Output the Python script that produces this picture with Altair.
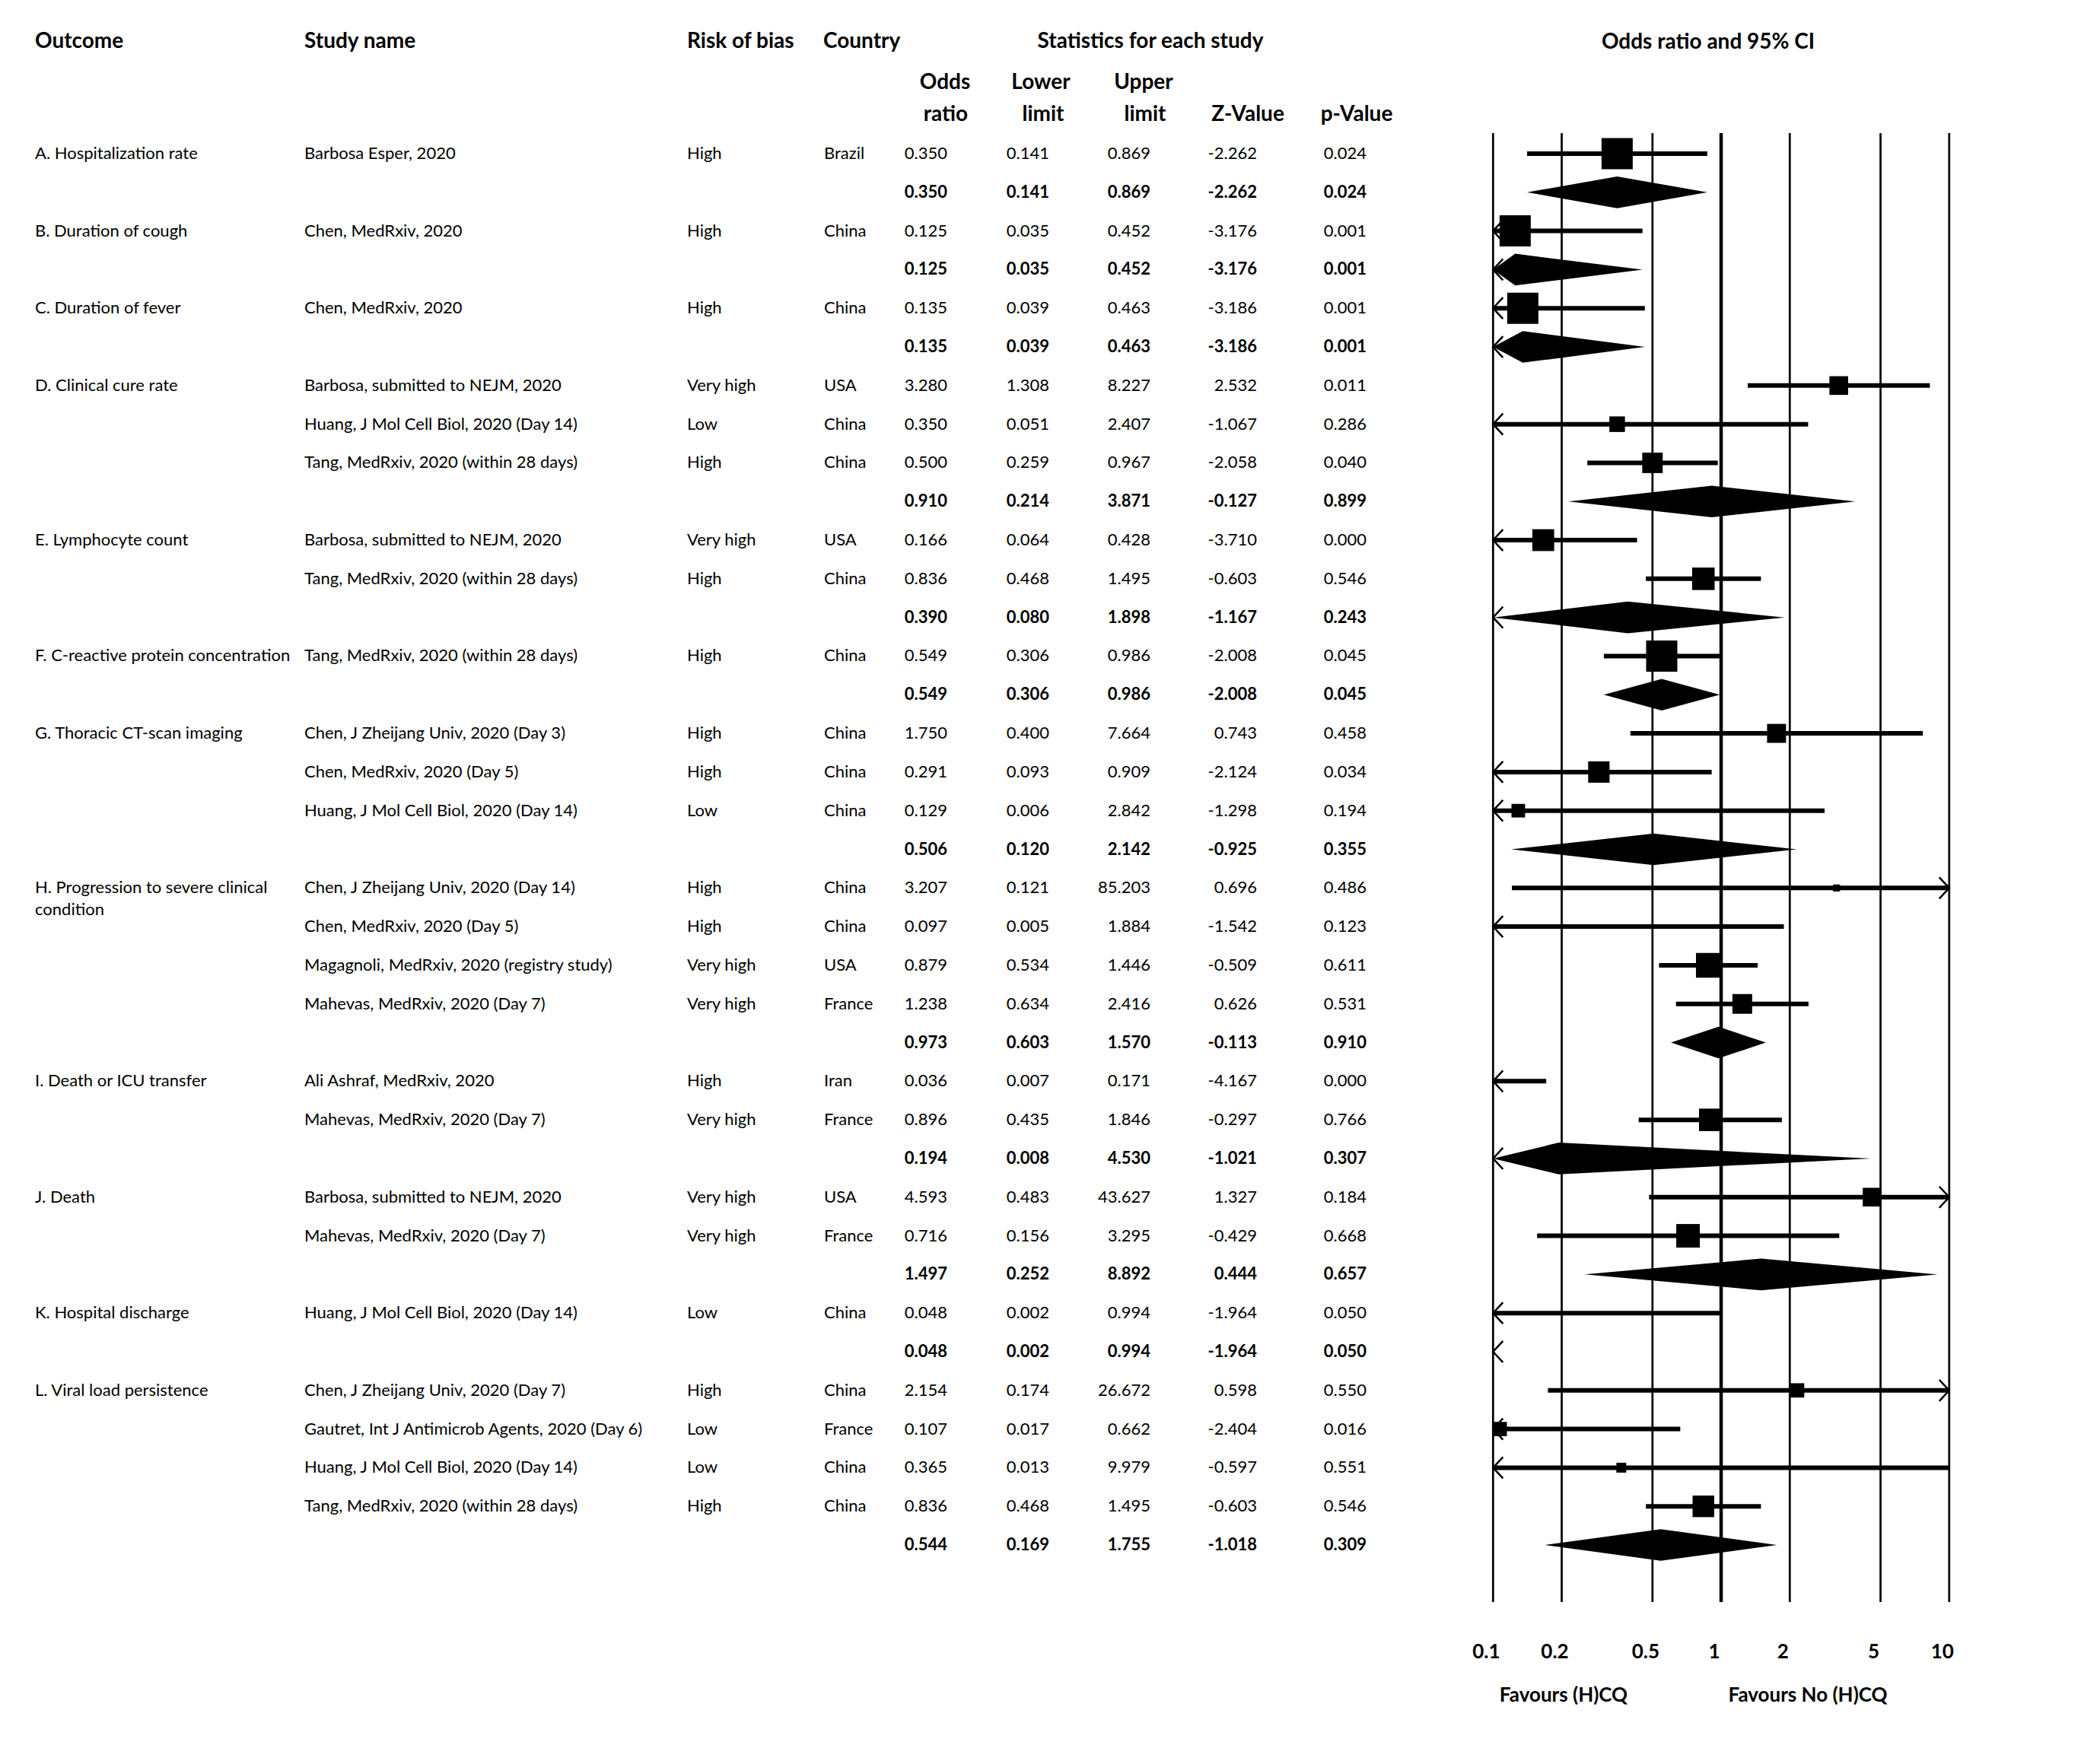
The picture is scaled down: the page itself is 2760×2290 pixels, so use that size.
import altair as alt
import pandas as pd

FONT = "Lato"
M = 8  # page margin: chart coordinate = reference pixel - M

# ---------------- data ----------------
outcome = ["A. Hospitalization rate", "", "B. Duration of cough", "", "C. Duration of fever", "",
           "D. Clinical cure rate", "", "", "", "E. Lymphocyte count", "", "",
           "F. C-reactive protein concentration", "", "G. Thoracic CT-scan imaging", "", "", "",
           "H. Progression to severe clinical", "", "", "", "", "I. Death or ICU transfer", "", "",
           "J. Death", "", "", "K. Hospital discharge", "", "L. Viral load persistence", "", "", "", ""]
outcome_wrap_row = [19]
outcome_wrap_text = ["condition"]

study = ["Barbosa Esper, 2020", "",
         "Chen, MedRxiv, 2020", "",
         "Chen, MedRxiv, 2020", "",
         "Barbosa, submitted to NEJM, 2020", "Huang, J Mol Cell Biol, 2020 (Day 14)",
         "Tang, MedRxiv, 2020 (within 28 days)", "",
         "Barbosa, submitted to NEJM, 2020", "Tang, MedRxiv, 2020 (within 28 days)", "",
         "Tang, MedRxiv, 2020 (within 28 days)", "",
         "Chen, J Zheijang Univ, 2020 (Day 3)", "Chen, MedRxiv, 2020 (Day 5)",
         "Huang, J Mol Cell Biol, 2020 (Day 14)", "",
         "Chen, J Zheijang Univ, 2020 (Day 14)", "Chen, MedRxiv, 2020 (Day 5)",
         "Magagnoli, MedRxiv, 2020 (registry study)", "Mahevas, MedRxiv, 2020 (Day 7)", "",
         "Ali Ashraf, MedRxiv, 2020", "Mahevas, MedRxiv, 2020 (Day 7)", "",
         "Barbosa, submitted to NEJM, 2020", "Mahevas, MedRxiv, 2020 (Day 7)", "",
         "Huang, J Mol Cell Biol, 2020 (Day 14)", "",
         "Chen, J Zheijang Univ, 2020 (Day 7)", "Gautret, Int J Antimicrob Agents, 2020 (Day 6)",
         "Huang, J Mol Cell Biol, 2020 (Day 14)", "Tang, MedRxiv, 2020 (within 28 days)", ""]

risk = ["High", "", "High", "", "High", "",
        "Very high", "Low", "High", "",
        "Very high", "High", "",
        "High", "",
        "High", "High", "Low", "",
        "High", "High", "Very high", "Very high", "",
        "High", "Very high", "",
        "Very high", "Very high", "",
        "Low", "",
        "High", "Low", "Low", "High", ""]

country = ["Brazil", "", "China", "", "China", "",
           "USA", "China", "China", "",
           "USA", "China", "",
           "China", "",
           "China", "China", "China", "",
           "China", "China", "USA", "France", "",
           "Iran", "France", "",
           "USA", "France", "",
           "China", "",
           "China", "France", "China", "China", ""]

odds_ratio = [0.350, 0.350, 0.125, 0.125, 0.135, 0.135, 3.280, 0.350, 0.500, 0.910,
              0.166, 0.836, 0.390, 0.549, 0.549, 1.750, 0.291, 0.129, 0.506,
              3.207, 0.097, 0.879, 1.238, 0.973, 0.036, 0.896, 0.194,
              4.593, 0.716, 1.497, 0.048, 0.048, 2.154, 0.107, 0.365, 0.836, 0.544]
lower = [0.141, 0.141, 0.035, 0.035, 0.039, 0.039, 1.308, 0.051, 0.259, 0.214,
         0.064, 0.468, 0.080, 0.306, 0.306, 0.400, 0.093, 0.006, 0.120,
         0.121, 0.005, 0.534, 0.634, 0.603, 0.007, 0.435, 0.008,
         0.483, 0.156, 0.252, 0.002, 0.002, 0.174, 0.017, 0.013, 0.468, 0.169]
upper = [0.869, 0.869, 0.452, 0.452, 0.463, 0.463, 8.227, 2.407, 0.967, 3.871,
         0.428, 1.495, 1.898, 0.986, 0.986, 7.664, 0.909, 2.842, 2.142,
         85.203, 1.884, 1.446, 2.416, 1.570, 0.171, 1.846, 4.530,
         43.627, 3.295, 8.892, 0.994, 0.994, 26.672, 0.662, 9.979, 1.495, 1.755]
z_value = [-2.262, -2.262, -3.176, -3.176, -3.186, -3.186, 2.532, -1.067, -2.058, -0.127,
           -3.710, -0.603, -1.167, -2.008, -2.008, 0.743, -2.124, -1.298, -0.925,
           0.696, -1.542, -0.509, 0.626, -0.113, -4.167, -0.297, -1.021,
           1.327, -0.429, 0.444, -1.964, -1.964, 0.598, -2.404, -0.597, -0.603, -1.018]
p_value = [0.024, 0.024, 0.001, 0.001, 0.001, 0.001, 0.011, 0.286, 0.040, 0.899,
           0.000, 0.546, 0.243, 0.045, 0.045, 0.458, 0.034, 0.194, 0.355,
           0.486, 0.123, 0.611, 0.531, 0.910, 0.000, 0.766, 0.307,
           0.184, 0.668, 0.657, 0.050, 0.050, 0.550, 0.016, 0.551, 0.546, 0.309]
# relative study weight (square area, % of the largest square); 0 for pooled rows
weight = [100, 0, 100, 0, 100, 0, 36, 25, 43, 0,
          49, 52, 0, 100, 0, 37, 47, 19, 0,
          5, 10, 63, 40, 0, 30, 52, 0,
          36, 57, 0, 100, 0, 21, 21, 10, 48, 0]

tick_values = [0.1, 0.2, 0.5, 1, 2, 5, 10]
tick_labels = ["0.1", "0.2", "0.5", "1", "2", "5", "10"]

# ---------------- tables ----------------
df = pd.DataFrame(dict(row=list(range(len(study))), outcome=outcome, study=study, risk=risk,
                       country=country, odds=odds_ratio, lo=lower, hi=upper, z=z_value,
                       p=p_value, w=weight))
df["summary"] = df["study"] == ""

ticks_df = pd.DataFrame(dict(v=tick_values, label=tick_labels))
wrap_df = pd.DataFrame(dict(row=outcome_wrap_row, t=outcome_wrap_text))

# pooled-estimate diamonds (clipped to the plotted range)
HALF = 0.41  # half-height of a diamond, in rows
dia = []
for r, o, l, h, s in zip(df.row, df.odds, df.lo, df.hi, df.summary):
    if s and o >= 0.1:
        dia.append(dict(row=r, x=max(l, 0.1), ya=r, yb=r))
        dia.append(dict(row=r, x=o, ya=r - HALF, yb=r + HALF))
        dia.append(dict(row=r, x=min(h, 10), ya=r, yb=r))
dia_df = pd.DataFrame(dia)

# ---------------- scales ----------------
xs = alt.Scale(type="log", domain=[0.1, 10], range=[1962.3 - M, 2561.8 - M], nice=False)
ys = alt.Scale(domain=[0, 36], range=[202 - M, 2031 - M], nice=False, zero=False)
Y = alt.Y("row:Q", scale=ys, axis=None)

# ---------------- forest plot ----------------
grid = alt.Chart(ticks_df).mark_rule(color="black").encode(
    x=alt.X("v:Q", scale=xs, axis=None),
    y=alt.value(175 - M), y2=alt.value(2106 - M),
    strokeWidth=alt.condition("datum.v == 1", alt.value(4.5), alt.value(2.7)),
)
tick_text = alt.Chart(ticks_df).mark_text(
    dx=-9, font=FONT, fontSize=26, fontWeight="bold", baseline="middle", align="center", color="black"
).encode(x=alt.X("v:Q", scale=xs, axis=None), y=alt.value(2172 - M), text="label:N")

ci = alt.Chart(df).transform_filter("!datum.summary").transform_calculate(
    xa="max(datum.lo, 0.1)", xb="min(datum.hi, 10)"
).mark_rule(color="black", strokeWidth=6).encode(
    x=alt.X("xa:Q", scale=xs, axis=None), x2="xb:Q", y=Y
)

squares = alt.Chart(df).transform_filter(
    "!datum.summary && datum.odds >= 0.1 && datum.odds <= 10"
).mark_square(color="black", opacity=1, filled=True).encode(
    x=alt.X("odds:Q", scale=xs, axis=None), y=Y,
    size=alt.Size("w:Q", scale=alt.Scale(domain=[0, 100], range=[0, 1681]), legend=None),
)

diamonds = alt.Chart(dia_df).mark_area(color="black", opacity=1, orient="vertical",
                                       interpolate="linear").encode(
    x=alt.X("x:Q", scale=xs, axis=None),
    y=alt.Y("ya:Q", scale=ys, axis=None, stack=None),
    y2="yb:Q",
    detail="row:N",
)

LEFT = "M0.93,-1L0,0L0.93,1"
RIGHT = "M-0.93,-1L0,0L-0.93,1"
arrows_l = alt.Chart(df).transform_filter("datum.lo < 0.1").transform_calculate(edge="0.1").mark_point(
    shape=LEFT, size=784, filled=False, color="black", strokeWidth=2.5, opacity=1
).encode(x=alt.X("edge:Q", scale=xs, axis=None), y=Y)
arrows_r = alt.Chart(df).transform_filter("!datum.summary && datum.hi > 10").transform_calculate(
    edge="10").mark_point(
    shape=RIGHT, size=784, filled=False, color="black", strokeWidth=2.5, opacity=1
).encode(x=alt.X("edge:Q", scale=xs, axis=None), y=Y)

# ---------------- table text ----------------
def col_text(field, x, align="left"):
    return alt.Chart(df).transform_filter(f"datum.{field} != ''").mark_text(
        align=align, baseline="middle", font=FONT, fontSize=22, color="black"
    ).encode(x=alt.value(x - M), y=Y, text=f"{field}:N")


def num_col(field, x_right, bold):
    flt = "datum.summary" if bold else "!datum.summary"
    return alt.Chart(df).transform_filter(flt).transform_calculate(
        s=f"replace(format(datum.{field}, '.3f'), '\u2212', '-')"
    ).mark_text(
        align="right", baseline="middle", font=FONT, fontSize=22,
        fontWeight="bold" if bold else "normal", color="black"
    ).encode(x=alt.value(x_right - M), y=Y, text="s:N")


def label(text, x, y, align="left", size=28, weight="bold"):
    return alt.Chart(pd.DataFrame({"t": [text]})).mark_text(
        align=align, baseline="middle", font=FONT, fontSize=size, fontWeight=weight, color="black"
    ).encode(x=alt.value(x - M), y=alt.value(y - M), text="t:N")


wrap_text = alt.Chart(wrap_df).mark_text(
    align="left", baseline="middle", font=FONT, fontSize=22, color="black", dy=29
).encode(x=alt.value(46 - M), y=Y, text="t:N")

layers = [grid, ci, diamonds, squares, arrows_l, arrows_r, tick_text,
          col_text("outcome", 46), wrap_text, col_text("study", 400),
          col_text("risk", 903), col_text("country", 1083)]
for fld, xr in [("odds", 1245), ("lo", 1379), ("hi", 1512), ("z", 1652), ("p", 1796)]:
    layers.append(num_col(fld, xr, False))
    layers.append(num_col(fld, xr, True))

layers += [
    label("Outcome", 46, 55),
    label("Study name", 400, 55),
    label("Risk of bias", 903, 55),
    label("Country", 1082, 55),
    label("Statistics for each study", 1512, 55, "center"),
    label("Odds ratio and 95% CI", 2245, 56, "center"),
    label("Odds", 1242, 109, "center"),
    label("ratio", 1243, 151, "center"),
    label("Lower", 1368, 109, "center"),
    label("limit", 1371, 151, "center"),
    label("Upper", 1503, 109, "center"),
    label("limit", 1505, 151, "center"),
    label("Z-Value", 1640, 151, "center"),
    label("p-Value", 1783, 151, "center"),
    label("Favours (H)CQ", 2055, 2229, "center", 26),
    label("Favours No (H)CQ", 2376, 2229, "center", 26),
]

chart = alt.layer(*layers).properties(
    width=2760 - 2 * M, height=2290 - 2 * M, padding=0,
    autosize=alt.AutoSizeParams(type="none"),
).configure_view(stroke=None, strokeWidth=0)

chart.save("out.html", embed_options={"renderer": "svg", "actions": False})
